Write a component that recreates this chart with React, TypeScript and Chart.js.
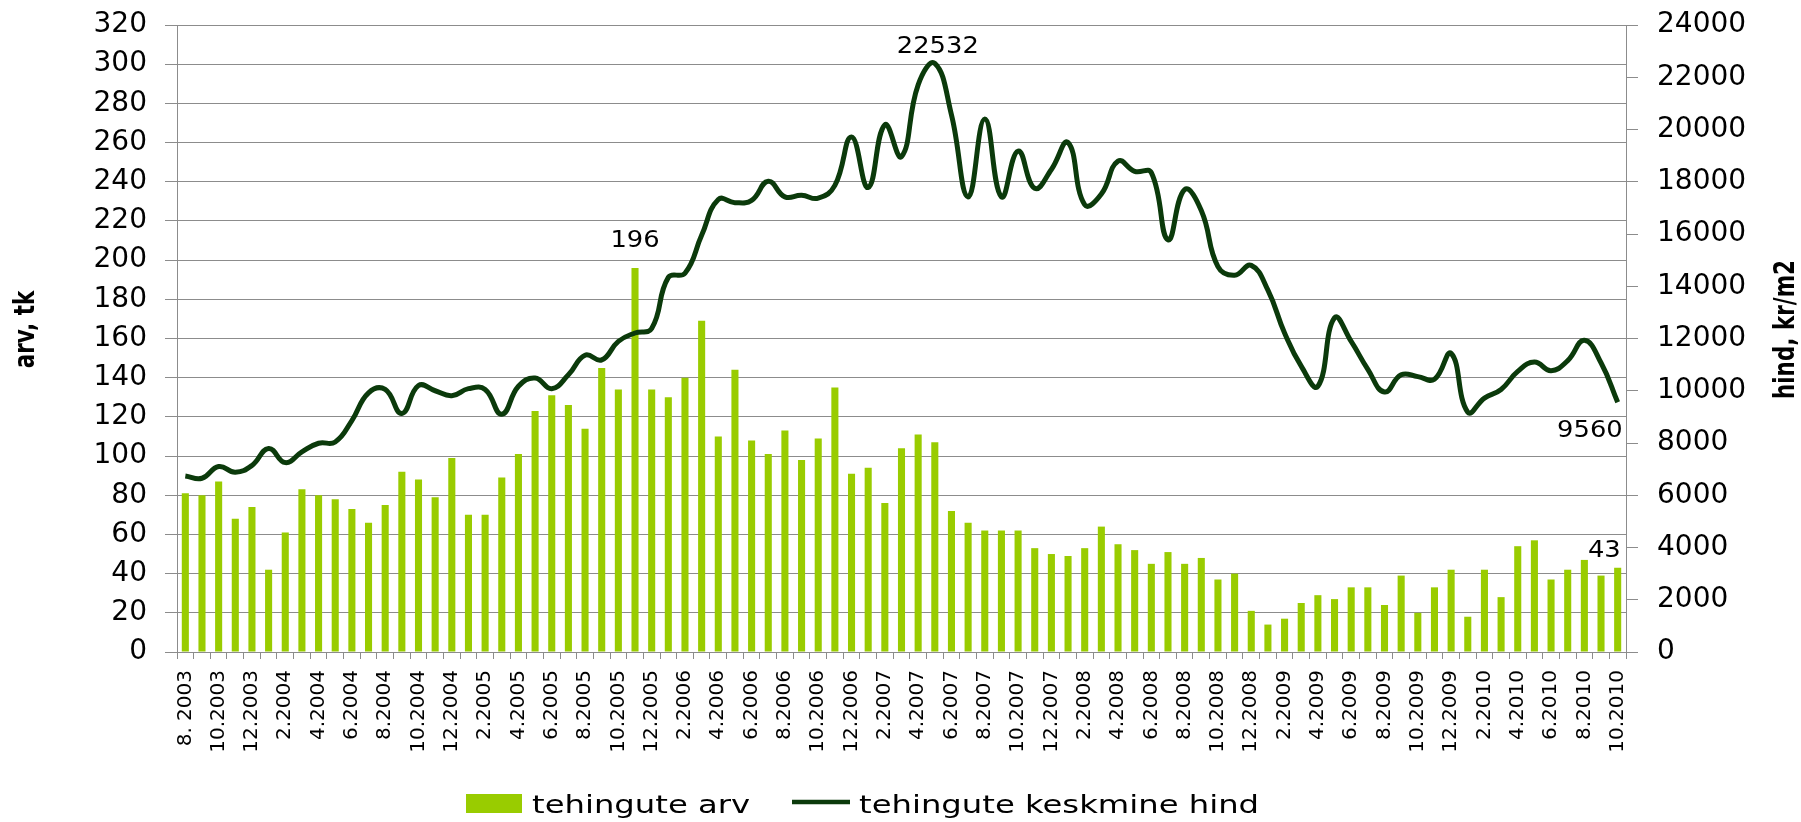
import React, { useEffect, useRef } from 'react';
import { Chart, registerables } from 'chart.js';

Chart.register(...registerables);

// ---- data ----
const categories = [
  '8. 2003', '9.2003', '10.2003', '11.2003', '12.2003',
  '1.2004', '2.2004', '3.2004', '4.2004', '5.2004', '6.2004', '7.2004', '8.2004', '9.2004', '10.2004', '11.2004', '12.2004',
  '1.2005', '2.2005', '3.2005', '4.2005', '5.2005', '6.2005', '7.2005', '8.2005', '9.2005', '10.2005', '11.2005', '12.2005',
  '1.2006', '2.2006', '3.2006', '4.2006', '5.2006', '6.2006', '7.2006', '8.2006', '9.2006', '10.2006', '11.2006', '12.2006',
  '1.2007', '2.2007', '3.2007', '4.2007', '5.2007', '6.2007', '7.2007', '8.2007', '9.2007', '10.2007', '11.2007', '12.2007',
  '1.2008', '2.2008', '3.2008', '4.2008', '5.2008', '6.2008', '7.2008', '8.2008', '9.2008', '10.2008', '11.2008', '12.2008',
  '1.2009', '2.2009', '3.2009', '4.2009', '5.2009', '6.2009', '7.2009', '8.2009', '9.2009', '10.2009', '11.2009', '12.2009',
  '1.2010', '2.2010', '3.2010', '4.2010', '5.2010', '6.2010', '7.2010', '8.2010', '9.2010', '10.2010',
];

const dealCounts = [
  81, 80, 87, 68, 74, 42, 61, 83, 80, 78,
  73, 66, 75, 92, 88, 79, 99, 70, 70, 89,
  101, 123, 131, 126, 114, 145, 134, 196, 134, 130,
  140, 169, 110, 144, 108, 101, 113, 98, 109, 135,
  91, 94, 76, 104, 111, 107, 72, 66, 62, 62,
  62, 53, 50, 49, 53, 64, 55, 52, 45, 51,
  45, 48, 37, 40, 21, 14, 17, 25, 29, 27,
  33, 33, 24, 39, 20, 33, 42, 18, 42, 28,
  54, 57, 37, 42, 47, 39, 43,
];

const avgPrices = [
  6740, 6650, 7100, 6880, 7140, 7790, 7250, 7660, 7990, 8040,
  8860, 9920, 10050, 9130, 10200, 10000, 9810, 10080, 10050, 9100,
  10170, 10490, 10080, 10610, 11360, 11180, 11890, 12210, 12380, 14340,
  14500, 15950, 17320, 17200, 17290, 18020, 17420, 17480, 17370, 17860,
  19710, 17780, 20180, 18960, 21710, 22532, 20560, 17420, 20400, 17420,
  19170, 17750, 18470, 19500, 17120, 17530, 18790, 18400, 18350, 15780,
  17700, 16900, 14750, 14420, 14800, 13850, 12210, 10940, 10170, 12790,
  11890, 10820, 9950, 10610, 10540, 10440, 11430, 9180, 9720, 10050,
  10740, 11100, 10770, 11150, 11930, 11070, 9560,
];

const seriesNames = ['tehingute arv', 'tehingute keskmine hind'];
const axisTitles = ['arv, tk', 'hind, kr/m2'];
const countAxis = { min: 0, max: 320, step: 20 };
const priceAxis = { min: 0, max: 24000, step: 2000 };

// ---- styles ----
const BAR_COLOR = '#99cc00';
const LINE_COLOR = '#0b3a0b';
const GRID_COLOR = '#8c8c8c';
const FONT = '"DejaVu Sans", Verdana, sans-serif';

function drawText(
  ctx: CanvasRenderingContext2D,
  text: string,
  x: number,
  y: number,
  font: string,
  align: CanvasTextAlign,
  sx: number,
) {
  ctx.save();
  ctx.font = font;
  ctx.textAlign = align;
  ctx.textBaseline = 'alphabetic';
  ctx.fillStyle = '#000';
  ctx.translate(x, y);
  ctx.scale(sx, 1);
  ctx.fillText(text, 0, 0);
  ctx.restore();
}

function drawVerticalTitle(ctx: CanvasRenderingContext2D, text: string, cx: number, cy: number) {
  ctx.save();
  ctx.font = `bold 21.5px ${FONT}`;
  ctx.textAlign = 'center';
  ctx.textBaseline = 'middle';
  ctx.fillStyle = '#000';
  ctx.translate(cx, cy);
  ctx.rotate(-Math.PI / 2);
  ctx.scale(1, 1.3);
  ctx.fillText(text, 0, 0);
  ctx.restore();
}

const decorPlugin = {
  id: 'decor',
  afterDraw(chart: any) {
    const ctx: CanvasRenderingContext2D = chart.ctx;
    const area = chart.chartArea;
    const barMeta = chart.getDatasetMeta(0);
    const lineMeta = chart.getDatasetMeta(1);
    const labelFont = `23px ${FONT}`;

    // data labels: max & last of each series
    const iBarMax = dealCounts.indexOf(Math.max(...dealCounts));
    const bMax = barMeta.data[iBarMax];
    drawText(ctx, String(dealCounts[iBarMax]), bMax.x, bMax.y - 21, labelFont, 'center', 1.12);

    const iLineMax = avgPrices.indexOf(Math.max(...avgPrices));
    const pMax = lineMeta.data[iLineMax];
    drawText(ctx, String(avgPrices[iLineMax]), pMax.x + 3, pMax.y - 10, labelFont, 'center', 1.12);

    const iLast = avgPrices.length - 1;
    const pLast = lineMeta.data[iLast];
    drawText(ctx, String(avgPrices[iLast]), pLast.x + 5, pLast.y + 35, labelFont, 'right', 1.12);

    const bLast = barMeta.data[dealCounts.length - 1];
    drawText(ctx, String(dealCounts[dealCounts.length - 1]), bLast.x + 3, bLast.y - 11, labelFont, 'right', 1.12);

    // axis titles
    const cy = (area.top + area.bottom) / 2 - 9;
    drawVerticalTitle(ctx, axisTitles[0], 27, cy);
    drawVerticalTitle(ctx, axisTitles[1], chart.width - 14, cy);

    // legend
    const legendFont = `25px ${FONT}`;
    const baseY = area.bottom + 161;
    ctx.save();
    ctx.fillStyle = BAR_COLOR;
    ctx.fillRect(466, baseY - 19, 56, 19);
    ctx.strokeStyle = LINE_COLOR;
    ctx.lineWidth = 4.5;
    ctx.beginPath();
    ctx.moveTo(792, baseY - 11);
    ctx.lineTo(850, baseY - 11);
    ctx.stroke();
    ctx.restore();
    drawText(ctx, seriesNames[0], 532, baseY, legendFont, 'left', 1.29);
    drawText(ctx, seriesNames[1], 859, baseY, legendFont, 'left', 1.29);
  },
};

export default function App() {
  const canvasRef = useRef<HTMLCanvasElement | null>(null);

  useEffect(() => {
    document.body.style.margin = '0';
    const canvas = canvasRef.current;
    if (!canvas) return;
    const chart = new Chart(canvas, {
      type: 'bar',
      data: {
        labels: categories,
        datasets: [
          {
            type: 'bar',
            label: seriesNames[0],
            data: dealCounts,
            backgroundColor: BAR_COLOR,
            borderWidth: 0,
            barPercentage: 0.85,
            categoryPercentage: 0.5,
            yAxisID: 'y',
            order: 2,
          },
          {
            type: 'line',
            label: seriesNames[1],
            data: avgPrices,
            borderColor: LINE_COLOR,
            backgroundColor: LINE_COLOR,
            borderWidth: 5,
            pointRadius: 0,
            tension: 0.45,
            fill: false,
            yAxisID: 'y1',
            order: 1,
          },
        ] as any,
      },
      options: {
        animation: false,
        responsive: false,
        devicePixelRatio: 1,
        layout: { padding: { top: 25, left: 0, right: 0, bottom: 50 } },
        plugins: {
          legend: { display: false },
          tooltip: { enabled: false },
          title: { display: false },
        },
        scales: {
          x: {
            offset: true,
            grid: {
              offset: true,
              drawOnChartArea: false,
              drawTicks: true,
              tickLength: 7,
              color: GRID_COLOR,
            },
            border: { color: GRID_COLOR, width: 1 },
            ticks: {
              autoSkip: false,
              maxRotation: 90,
              minRotation: 90,
              padding: 11,
              color: '#000',
              font: { family: FONT, size: 20 },
              callback: (_v: any, i: number) => (i % 2 === 0 ? categories[i] : ''),
            },
            afterFit: (scale: any) => {
              scale.height = 120;
            },
          },
          y: {
            position: 'left',
            min: countAxis.min,
            max: countAxis.max,
            grid: { color: GRID_COLOR, lineWidth: 1, tickLength: 12 },
            border: { color: GRID_COLOR, width: 1 },
            ticks: {
              stepSize: countAxis.step,
              padding: 18,
              color: '#000',
              font: { family: FONT, size: 28 },
              callback: (v: any) => String(v),
            },
            afterFit: (scale: any) => {
              scale.width = 177;
              scale.paddingTop = 5;
              scale.paddingBottom = 5;
            },
          },
          y1: {
            position: 'right',
            min: priceAxis.min,
            max: priceAxis.max,
            grid: { drawOnChartArea: false, color: GRID_COLOR, tickLength: 12 },
            border: { color: GRID_COLOR, width: 1 },
            ticks: {
              stepSize: priceAxis.step,
              padding: 19,
              color: '#000',
              font: { family: FONT, size: 28 },
              callback: (v: any) => String(v),
            },
            afterFit: (scale: any) => {
              scale.width = 175;
              scale.paddingTop = 5;
              scale.paddingBottom = 5;
            },
          },
        },
      } as any,
      plugins: [decorPlugin],
    });
    return () => chart.destroy();
  }, []);

  return (
    <div style={{ width: 1801, height: 822, overflow: 'hidden', background: '#fff' }}>
      <canvas ref={canvasRef} width={1801} height={822} />
    </div>
  );
}
